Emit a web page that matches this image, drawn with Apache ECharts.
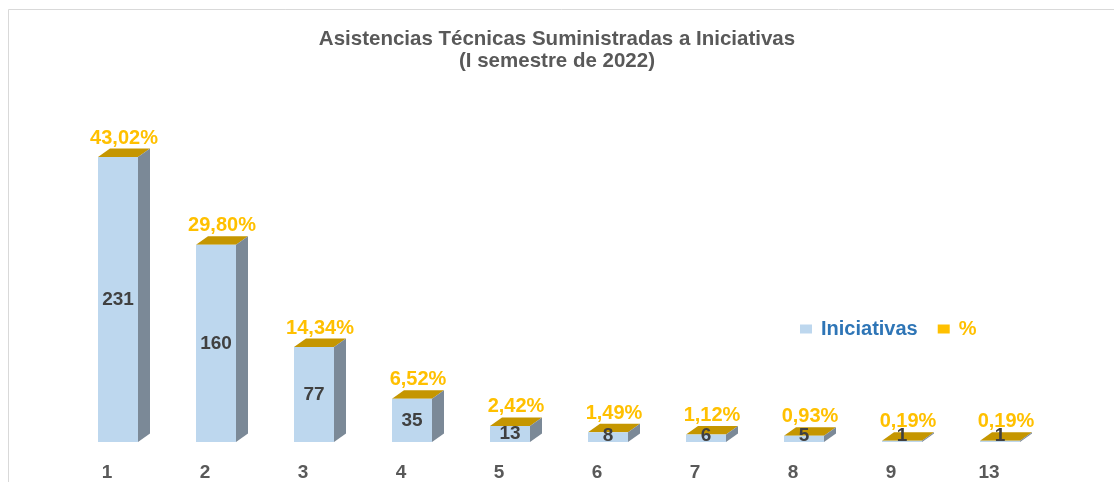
<!DOCTYPE html>
<html>
<head>
<meta charset="utf-8">
<script src="https://cdn.jsdelivr.net/npm/echarts@6/dist/echarts.min.js"></script>
<style>
  html, body { margin: 0; padding: 0; background: #fff; }
  #chart { width: 1114px; height: 482px; }
</style>
</head>
<body>
<div id="chart"></div>
<script>
const categorias = ['1', '2', '3', '4', '5', '6', '7', '8', '9', '13']
const iniciativas = [231, 160, 77, 35, 13, 8, 6, 5, 1, 1]
const porcentajes = [43.02, 29.80, 14.34, 6.52, 2.42, 1.49, 1.12, 0.93, 0.19, 0.19]

const FONT = 'Arial, "Liberation Sans", sans-serif'
const FRONT = '#BDD7EE'
const SIDE = '#7B8997'
const CAP = '#C59600'
const GOLD = '#FFC000'
// 3D box geometry (pixels)
const OFF = -9, W = 40, DX = 12, DY = 8.5

const fmtPct = (v) => v.toFixed(2).replace('.', ',') + '%'

const renderBar = (params, api) => {
  const i = api.value(0)
  const base = api.coord([i, 0])
  const top = api.coord([i, api.value(1)])
  const x0 = base[0] + OFF
  const mid = Math.min((top[1] + base[1]) / 2, base[1] - 6)
  return {
    type: 'group',
    children: [
      {
        type: 'rect',
        shape: { x: x0, y: top[1], width: W, height: base[1] - top[1] },
        style: { fill: FRONT }
      },
      {
        type: 'polygon',
        shape: {
          points: [
            [x0 + W, top[1]],
            [x0 + W + DX, top[1] - DY],
            [x0 + W + DX, base[1] - DY],
            [x0 + W, base[1]]
          ]
        },
        style: { fill: SIDE }
      },
      {
        type: 'text',
        x: x0 + W / 2,
        y: mid,
        z2: 10,
        style: {
          text: String(api.value(1)),
          fill: '#404040',
          font: 'bold 19px ' + FONT,
          align: 'center',
          verticalAlign: 'middle'
        }
      }
    ]
  }
}

const renderCap = (params, api) => {
  const i = api.value(0)
  const base = api.coord([i, 0])
  const top = api.coord([i, api.value(1)])
  const x0 = base[0] + OFF
  const y = top[1]
  return {
    type: 'group',
    children: [
      {
        type: 'polygon',
        shape: { points: [[x0, y], [x0 + W, y], [x0 + W + DX, y - DY], [x0 + DX, y - DY]] },
        style: { fill: CAP }
      },
      {
        type: 'text',
        x: x0 + W / 2 + DX / 2,
        y: y - 19,
        style: {
          text: fmtPct(api.value(2)),
          fill: GOLD,
          font: 'bold 20px ' + FONT,
          align: 'center',
          verticalAlign: 'middle'
        }
      }
    ]
  }
}

const chart = echarts.init(document.getElementById('chart'))
chart.setOption({
  backgroundColor: '#fff',
  animation: false,
  title: {
    text: 'Asistencias Técnicas Suministradas a Iniciativas\n(I semestre de 2022)',
    left: 'center',
    top: 23,
    textStyle: { fontFamily: FONT, fontWeight: 'bold', fontSize: 20.5, color: '#595959', lineHeight: 22 }
  },
  legend: {
    left: 795,
    top: 314,
    icon: 'rect',
    itemWidth: 12,
    itemHeight: 9,
    itemGap: 20,
    data: [
      { name: 'Iniciativas', itemStyle: { color: FRONT }, textStyle: { color: '#2E75B6' } },
      { name: '%', itemStyle: { color: GOLD }, textStyle: { color: GOLD } }
    ],
    textStyle: { fontFamily: FONT, fontWeight: 'bold', fontSize: 20, padding: [0, 0, 0, 4] }
  },
  graphic: [
    {
      type: 'rect',
      silent: true,
      shape: { x: 8.5, y: 9.5, width: 1200, height: 600 },
      style: { fill: 'none', stroke: '#D9D9D9', lineWidth: 1 }
    }
  ],
  grid: { left: 58, right: 76, top: 72, bottom: 39 },
  xAxis: {
    type: 'category',
    data: categorias,
    axisLine: { show: false },
    axisTick: { show: false },
    axisLabel: { margin: 21, fontFamily: FONT, fontWeight: 'bold', fontSize: 19, color: '#595959' }
  },
  yAxis: {
    type: 'value',
    min: 0,
    max: 300,
    show: false,
    splitLine: { show: false }
  },
  series: [
    {
      name: '%',
      type: 'custom',
      z: 2,
      itemStyle: { color: GOLD },
      encode: { x: 0, y: 1 },
      data: categorias.map((c, i) => [i, iniciativas[i], porcentajes[i]]),
      renderItem: renderCap
    },
    {
      name: 'Iniciativas',
      type: 'custom',
      z: 3,
      itemStyle: { color: FRONT },
      encode: { x: 0, y: 1 },
      data: categorias.map((c, i) => [i, iniciativas[i]]),
      renderItem: renderBar
    }
  ]
})
</script>
</body>
</html>
